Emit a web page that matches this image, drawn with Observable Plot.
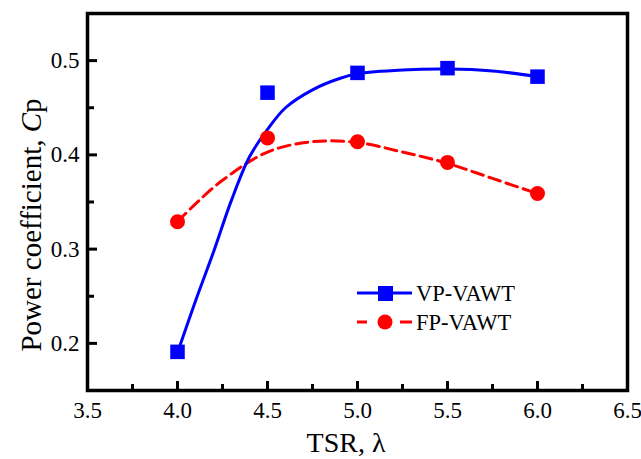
<!DOCTYPE html>
<html>
<head>
<meta charset="utf-8">
<script src="https://cdn.jsdelivr.net/npm/d3@7"></script>
<script src="https://cdn.jsdelivr.net/npm/@observablehq/plot@0.6"></script>
<style>
  html, body { margin: 0; padding: 0; background: #fff; }
  #chart svg { display: block; }
</style>
</head>
<body>
<div id="chart"></div>
<script>
// Measured points
const tsr = [4.0, 4.5, 5.0, 5.5, 6.0];
const vpCp = [0.191, 0.466, 0.487, 0.492, 0.483];
const fpCp = [0.329, 0.418, 0.414, 0.392, 0.359];

// Fitted curves
const vpFitX = [4.0, 4.1, 4.2, 4.3, 4.4, 4.5, 4.6, 4.75, 4.9, 5.0, 5.25, 5.5, 5.75, 6.0];
const vpFitY = [0.190, 0.245, 0.297, 0.352, 0.398, 0.427, 0.450, 0.469, 0.481, 0.486, 0.490, 0.491, 0.489, 0.483];
const fpFitX = [4.0, 4.1, 4.25, 4.5, 4.75, 5.0, 5.25, 5.5, 5.75, 6.0];
const fpFitY = [0.329, 0.348, 0.373, 0.403, 0.414, 0.413, 0.403, 0.391, 0.375, 0.359];

const xMajor = [3.5, 4.0, 4.5, 5.0, 5.5, 6.0, 6.5];
const xMinor = [3.75, 4.25, 4.75, 5.25, 5.75, 6.25];
const yMajor = [0.2, 0.3, 0.4, 0.5];
const yMinor = [0.25, 0.35, 0.45];

const seriesNames = ["VP-VAWT", "FP-VAWT"];

const vp = tsr.map((x, i) => ({x, y: vpCp[i]}));
const fp = tsr.map((x, i) => ({x, y: fpCp[i]}));
const vpFit = vpFitX.map((x, i) => ({x, y: vpFitY[i]}));
const fpFit = fpFitX.map((x, i) => ({x, y: fpFitY[i]}));

const W = 641, H = 459;
const mL = 87, mR = 14, mT = 13, mB = 69;
const fw = W - mL - mR, fh = H - mT - mB;
const font = "Liberation Serif, Times New Roman, serif";

const plot = Plot.plot({
  width: W,
  height: H,
  marginLeft: mL,
  marginRight: mR,
  marginTop: mT,
  marginBottom: mB,
  style: {fontFamily: font, fontSize: "23px", color: "#000", background: "#fff"},
  x: {domain: [3.5, 6.5]},
  y: {domain: [0.15, 0.55]},
  marks: [
    Plot.axisX(xMajor, {tickSize: 0, tickPadding: 11, tickFormat: d3.format(".1f"), fontSize: 23, label: null}),
    Plot.axisY(yMajor, {tickSize: 0, tickPadding: 8, tickFormat: d3.format(".1f"), fontSize: 23, label: null}),
    Plot.tickX(xMajor, {x: d => d, stroke: "#000", strokeWidth: 3, insetTop: fh - 9}),
    Plot.tickX(xMinor, {x: d => d, stroke: "#000", strokeWidth: 3, insetTop: fh - 6}),
    Plot.tickY(yMajor, {y: d => d, stroke: "#000", strokeWidth: 3, insetRight: fw - 10}),
    Plot.tickY(yMinor, {y: d => d, stroke: "#000", strokeWidth: 3, insetRight: fw - 7}),
    Plot.line(fpFit, {x: "x", y: "y", curve: "catmull-rom", stroke: "#ff0000", strokeWidth: 3, strokeDasharray: "12,6"}),
    Plot.line(vpFit, {x: "x", y: "y", curve: "catmull-rom", stroke: "#0000ff", strokeWidth: 3}),
    Plot.dot(vp, {x: "x", y: "y", symbol: "square", r: 8.2, fill: "#0000ff", stroke: "none"}),
    Plot.dot(fp, {x: "x", y: "y", symbol: "circle", r: 7.5, fill: "#ff0000", stroke: "none"}),
    Plot.frame({stroke: "#000", strokeWidth: 3.5})
  ]
});

document.getElementById("chart").appendChild(plot);

const svg = d3.select(plot);

// Axis titles
svg.append("text")
  .attr("x", 346).attr("y", 452)
  .attr("text-anchor", "middle")
  .attr("font-family", font).attr("font-size", 28).attr("fill", "#000")
  .text("TSR, λ");

const yt = svg.append("text")
  .attr("transform", "translate(41,225) rotate(-90)")
  .attr("text-anchor", "middle")
  .attr("font-family", font).attr("font-size", 29).attr("fill", "#000");
yt.append("tspan").text("Power coefficient, ");
yt.append("tspan").attr("font-style", "italic").text("C");
yt.append("tspan").text("p");

// Legend
const lg = svg.append("g").attr("font-family", font).attr("font-size", 22.5).attr("text-anchor", "start");
// VP
lg.append("line").attr("x1", 357).attr("x2", 412).attr("y1", 293).attr("y2", 293)
  .attr("stroke", "#0000ff").attr("stroke-width", 3);
lg.append("rect").attr("x", 378).attr("y", 286).attr("width", 15).attr("height", 15).attr("fill", "#0000ff");
lg.append("text").attr("x", 416).attr("y", 293).attr("dy", "0.35em").attr("text-anchor", "start").attr("fill", "#000").text(seriesNames[0]);
// FP
lg.append("line").attr("x1", 357).attr("x2", 367).attr("y1", 322).attr("y2", 322)
  .attr("stroke", "#ff0000").attr("stroke-width", 3);
lg.append("line").attr("x1", 400).attr("x2", 412).attr("y1", 322).attr("y2", 322)
  .attr("stroke", "#ff0000").attr("stroke-width", 3);
lg.append("circle").attr("cx", 385).attr("cy", 322).attr("r", 7.5).attr("fill", "#ff0000");
lg.append("text").attr("x", 416).attr("y", 322).attr("dy", "0.35em").attr("text-anchor", "start").attr("fill", "#000").text(seriesNames[1]);
</script>
</body>
</html>
